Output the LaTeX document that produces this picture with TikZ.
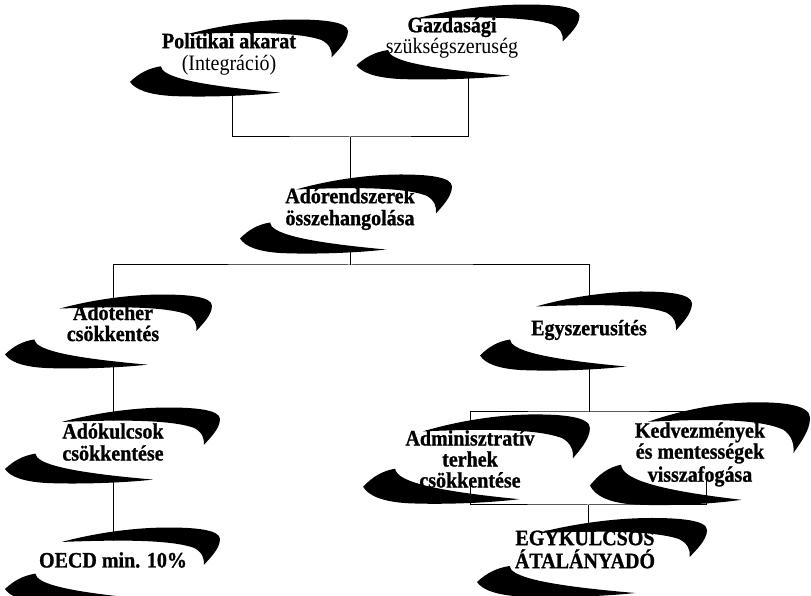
\documentclass[tikz,border=0pt]{standalone}
\usepackage{fontspec}
\setmainfont[FakeStretch=0.91,BoldFeatures={FakeBold=1}]{Liberation Serif}
\usetikzlibrary{calc}
\pgfdeclarelayer{back}
\pgfdeclarelayer{mid}
\pgfsetlayers{back,mid,main}
\tikzset{
  lbl/.style={font=\fontsize{22}{22}\selectfont\bfseries, align=center, inner sep=0pt},
  conn/.style={line width=1pt, black},
}
\newcommand{\swoosh}[5]{%
  \begin{pgfonlayer}{mid}
  \begin{scope}[shift={($(#1.center)+(#2,#3)$)},xscale=#4,yscale=#5]
    \fill[white] (9,-5) ellipse [x radius=81, y radius=30.5];
    \fill[black] (-50,24) .. controls (-18,33) and (20,39) .. (55,39)
       .. controls (80,39) and (106,37) .. (106,27)
       .. controls (106,17) and (96,7) .. (90,0)
       .. controls (91,7) and (88,14) .. (80,18)
       .. controls (55,27) and (0,26) .. cycle;
    \fill[black] (-106,-25) .. controls (-97,-16) and (-88,-11) .. (-76,-9)
       .. controls (-75,-19) and (-48,-28) .. (40,-36)
       .. controls (10,-39.5) and (-35,-41) .. (-66,-39.5)
       .. controls (-88,-38) and (-101,-33) .. cycle;
  \end{scope}
  \end{pgfonlayer}}
\begin{document}
\begin{tikzpicture}[x=1pt,y=1pt]
\useasboundingbox (0,0) rectangle (811,596);

\node[lbl] (n1) at (229,542) {Politikai akarat\\{\mdseries (Integráció)}};
\node[lbl] (n2) at (452,558.5) {Gazdasági\\[-1pt]{\mdseries szükségszeruség}};
\node[lbl] (n3) at (350,387) {Adórendszerek\\összehangolása};
\node[lbl] (n4) at (113,273) {Adóteher\\[-1pt]csökkentés};
\node[lbl] (n5) at (113,154) {Adókulcsok\\csökkentése};
\node[lbl] (n6) at (113,36) {OECD min. 10\%};
\node[lbl] (n7) at (589,266) {Egyszerusítés};
\node[lbl] (n8) at (470,137) {Adminisztratív\\[-1pt]terhek\\[-1pt]csökkentése};
\node[lbl] (n9) at (700,141.5) {Kedvezmények\\[-1pt]és mentességek\\[1pt]visszafogása};
\node[lbl] (n10) at (585,46.5) {EGYKULCSOS\\[1pt]ÁTALÁNYADÓ};

\swoosh{n1}{10}{-3.5}{1.028}{0.974}
\swoosh{n2}{16}{-4}{1.052}{0.948}
\swoosh{n3}{-4}{-4.5}{1}{1}
\swoosh{n4}{-4.5}{-8}{0.976}{0.935}
\swoosh{n5}{-0.5}{-3}{1.014}{0.961}
\swoosh{n6}{-0.5}{-5}{1.014}{0.961}
\swoosh{n7}{-3}{-0.5}{1}{1}
\swoosh{n8}{6.5}{0.5}{1.07}{1.13}
\swoosh{n9}{0}{1.5}{1.038}{1.3}
\swoosh{n10}{7}{-7.5}{1.085}{1}

\coordinate (jA) at (350,459);
\coordinate (jB) at (350,331);
\coordinate (jC) at (589,184);
\coordinate (jD) at (588,91);

\begin{pgfonlayer}{back}
\draw[conn] ([xshift=3pt]n1.south) |- (jA) -| ([xshift=16pt]n2.south);
\draw[conn] (jA) -- (jA |- n3.north);
\draw[conn] (jB |- n3.south) -- (jB);
\draw[conn] (n4.north) |- (jB) -| (n7.north);
\draw[conn] (n4.south) -- (n5.north);
\draw[conn] (n5.south) -- (n6.north);
\draw[conn] (n7.south) -- (jC);
\draw[conn] (n8.north) |- (jC) -| ([xshift=6pt]n9.north);
\draw[conn] (jD) -- (jD |- n10.north);
\end{pgfonlayer}
\draw[conn] ([yshift=7pt]n8.south) |- (jD) -| ([xshift=6pt,yshift=6pt]n9.south);
\end{tikzpicture}
\end{document}
